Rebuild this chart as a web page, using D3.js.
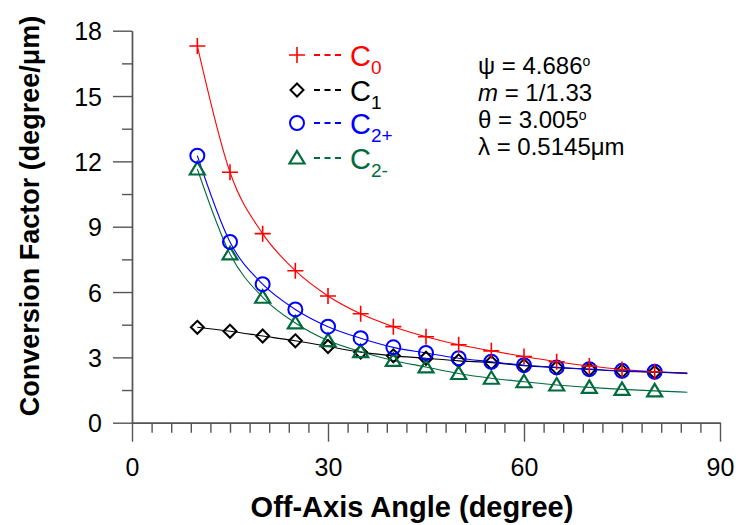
<!DOCTYPE html>
<html>
<head>
<meta charset="utf-8">
<script src="https://cdn.jsdelivr.net/npm/d3@7"></script>
<style>
  body { margin: 0; background: #fff; }
  svg { display: block; font-family: "Liberation Sans", Arial, sans-serif; }
</style>
</head>
<body>
<div id="chart"></div>
<script>
// data
const angles = [10, 15, 20, 25, 30, 35, 40, 45, 50, 55, 60, 65, 70, 75, 80];
const c0  = [17.3, 11.5, 8.68, 6.98, 5.82, 5.0, 4.41, 3.95, 3.58, 3.3, 3.04, 2.8, 2.6, 2.44, 2.34];
const c1  = [4.38, 4.2, 3.98, 3.76, 3.5, 3.24, 3.07, 2.96, 2.84, 2.76, 2.62, 2.53, 2.45, 2.37, 2.32];
const c2p = [12.26, 8.3, 6.36, 5.2, 4.41, 3.88, 3.46, 3.2, 2.96, 2.8, 2.64, 2.54, 2.46, 2.38, 2.34];
const c2m = [11.65, 7.75, 5.76, 4.58, 3.77, 3.26, 2.86, 2.56, 2.26, 2.04, 1.88, 1.73, 1.62, 1.53, 1.46];
// fitted curves run a bit past the last point
const fitEndAngle = 85;
const fitEnd = { c0: 2.25, c1: 2.27, c2p: 2.28, c2m: 1.40 };

const xMajor = [0, 30, 60, 90];
const yMajor = [0, 3, 6, 9, 12, 15, 18];

const series = [
    { key: 'c0',  values: c0,  color: '#ff0000', marker: 'plus',     label: 'C', sub: '0' },
    { key: 'c1',  values: c1,  color: '#000000', marker: 'diamond',  label: 'C', sub: '1' },
    { key: 'c2p', values: c2p, color: '#0000ff', marker: 'circle',   label: 'C', sub: '2+' },
    { key: 'c2m', values: c2m, color: '#006b3c', marker: 'triangle', label: 'C', sub: '2-' }
];

const width = 736, height = 525;
const svg = d3.select('#chart').append('svg')
    .attr('width', width)
    .attr('height', height);

const x = d3.scaleLinear().domain([0, 90]).range([132, 720]);
const y = d3.scaleLinear().domain([0, 18]).range([422.7, 30.7]);

const axisColor = '#555';

// X axis: minor ticks every 3 degrees, major every 30
svg.append('g')
    .attr('transform', `translate(0,${y(0)})`)
    .call(d3.axisBottom(x).tickValues(d3.range(0, 91, 3).filter(d => d % 30 !== 0))
        .tickSize(10).tickSizeOuter(0).tickFormat(''));
const xMajorG = svg.append('g')
    .attr('transform', `translate(0,${y(0)})`)
    .call(d3.axisBottom(x).tickValues(xMajor).tickSize(19).tickSizeOuter(0));
xMajorG.selectAll('text')
    .attr('y', 53).attr('dy', 0)
    .attr('font-size', 25)
    .attr('font-family', '"Liberation Sans", Arial, sans-serif')
    .attr('fill', '#000');

// Y axis: minor ticks every 1.5, major every 3
svg.append('g')
    .attr('transform', `translate(${x(0)},0)`)
    .call(d3.axisLeft(y).tickValues(d3.range(1.5, 18, 3))
        .tickSize(10).tickSizeOuter(0).tickFormat(''));
const yMajorG = svg.append('g')
    .attr('transform', `translate(${x(0)},0)`)
    .call(d3.axisLeft(y).tickValues(yMajor).tickSize(19).tickSizeOuter(0));
yMajorG.selectAll('text')
    .attr('x', -30).attr('dy', '0.36em')
    .attr('font-size', 25)
    .attr('font-family', '"Liberation Sans", Arial, sans-serif')
    .attr('fill', '#000');

svg.selectAll('.domain').attr('stroke', axisColor).attr('stroke-width', 1.4);
svg.selectAll('.tick line').attr('stroke', axisColor).attr('stroke-width', 1.4);

// axis titles
svg.append('text')
    .attr('x', 412)
    .attr('y', 517)
    .attr('text-anchor', 'middle')
    .attr('font-size', 29)
    .attr('font-weight', 'bold')
    .text('Off-Axis Angle (degree)');

svg.append('text')
    .attr('transform', 'translate(39,216) rotate(-90)')
    .attr('text-anchor', 'middle')
    .attr('font-size', 27)
    .attr('font-weight', 'bold')
    .text('Conversion Factor (degree/μm)');

// curves
const line = d3.line()
    .x(d => x(d[0]))
    .y(d => y(d[1]))
    .curve(d3.curveMonotoneX);

series.forEach(s => {
    const pts = angles.map((a, i) => [a, s.values[i]]);
    pts.push([fitEndAngle, fitEnd[s.key]]);
    svg.append('path')
        .datum(pts)
        .attr('fill', 'none')
        .attr('stroke', s.color)
        .attr('stroke-width', 1.1)
        .attr('d', line);
});

// marker drawing
function drawMarker(g, type, color) {
    if (type === 'plus') {
        g.append('path').attr('d', 'M-8,0H8M0,-8V8')
            .attr('stroke', color).attr('stroke-width', 1.6).attr('fill', 'none');
    } else if (type === 'diamond') {
        g.append('path').attr('d', 'M0,-6.5L6.5,0L0,6.5L-6.5,0Z')
            .attr('stroke', color).attr('stroke-width', 2).attr('fill', 'none');
    } else if (type === 'circle') {
        g.append('circle').attr('r', 7)
            .attr('stroke', color).attr('stroke-width', 2).attr('fill', 'none');
    } else if (type === 'triangle') {
        g.append('path').attr('d', 'M0,-7L7.5,5.5L-7.5,5.5Z')
            .attr('stroke', color).attr('stroke-width', 2.2).attr('fill', 'none');
    }
}

// markers: draw C1 first, then the others on top, in the order seen
const drawOrder = ['c1', 'c2m', 'c2p', 'c0'];
drawOrder.forEach(k => {
    const s = series.find(d => d.key === k);
    svg.append('g').selectAll('g')
        .data(angles.map((a, i) => [a, s.values[i]]))
        .join('g')
        .attr('transform', d => `translate(${x(d[0])},${y(d[1])})`)
        .each(function() { drawMarker(d3.select(this), s.marker, s.color); });
});

// legend
const legendRows = [55, 90, 123, 158];
series.forEach((s, i) => {
    const g = svg.append('g').attr('transform', `translate(297,${legendRows[i]})`);
    drawMarker(g, s.marker, s.color);
    g.append('path')
        .attr('d', 'M17,0H44')
        .attr('stroke', s.color)
        .attr('stroke-width', 2)
        .attr('stroke-dasharray', '6,4.5');
    const t = g.append('text')
        .attr('x', 53)
        .attr('y', 11)
        .attr('font-size', 29)
        .attr('fill', s.color);
    t.append('tspan').text(s.label);
    t.append('tspan').attr('font-size', 19).attr('dy', 8).text(s.sub);
});

// annotation block
const notes = svg.append('g').attr('font-size', 24).attr('fill', '#000');
const n1 = notes.append('text').attr('x', 478).attr('y', 74);
n1.append('tspan').text('ψ = 4.686');
n1.append('tspan').attr('font-size', 14).attr('dy', -8).text('o');

const n2 = notes.append('text').attr('x', 478).attr('y', 101);
n2.append('tspan').attr('font-style', 'italic').text('m');
n2.append('tspan').text(' = 1/1.33');

const n3 = notes.append('text').attr('x', 478).attr('y', 128);
n3.append('tspan').text('θ = 3.005');
n3.append('tspan').attr('font-size', 14).attr('dy', -8).text('o');

notes.append('text').attr('x', 478).attr('y', 155).text('λ = 0.5145μm');
</script>
</body>
</html>
